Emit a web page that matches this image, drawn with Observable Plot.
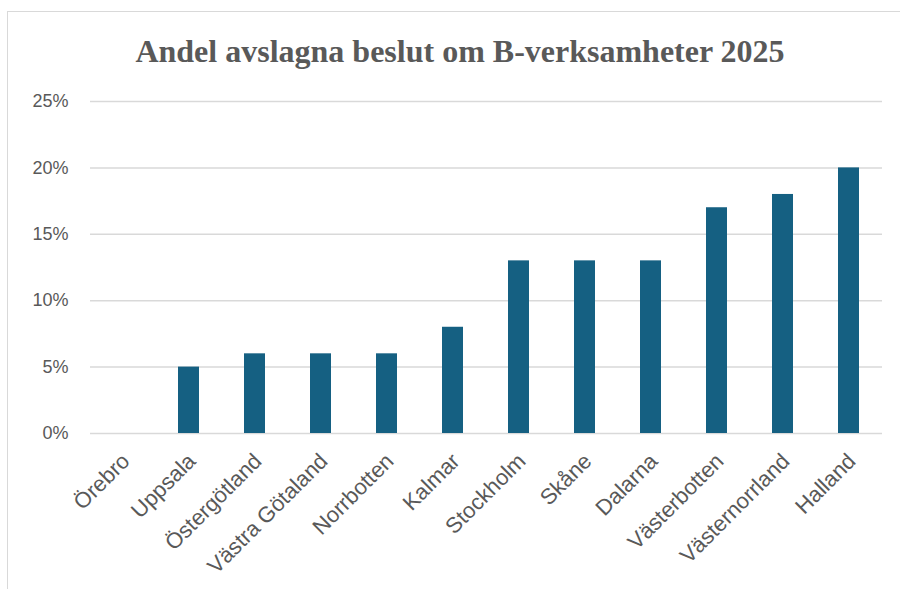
<!DOCTYPE html>
<html>
<head>
<meta charset="utf-8">
<script src="https://cdn.jsdelivr.net/npm/d3@7"></script>
<script src="https://cdn.jsdelivr.net/npm/@observablehq/plot@0.6"></script>
<style>
  html, body { margin: 0; padding: 0; background: #fff; overflow: hidden; }
  #wrap { position: relative; width: 900px; height: 589px; overflow: hidden; }
  #frame { position: absolute; left: 7px; top: 11px; width: 1000px; height: 1000px; border: 1.5px solid #d9d9d9; box-sizing: border-box; }
  #title { position: absolute; left: 0; width: 920px; top: 35px; text-align: center; line-height: 32px;
    font-family: "Liberation Serif", "Times New Roman", serif; font-weight: bold; font-size: 32px; color: #595959; }
  #chart { position: absolute; left: 0; top: 0; }
</style>
</head>
<body>
<div id="wrap">
  <div id="frame"></div>
  <div id="chart"></div>
  <div id="title">Andel avslagna beslut om B-verksamheter 2025</div>
</div>
<script>
const categories = ["Örebro", "Uppsala", "Östergötland", "Västra Götaland", "Norrbotten", "Kalmar", "Stockholm", "Skåne", "Dalarna", "Västerbotten", "Västernorrland", "Halland"];
const values = [0, 5, 6, 6, 6, 8, 13, 13, 13, 17, 18, 20];
const yTicks = [0, 5, 10, 15, 20, 25];

const data = categories.map((c, i) => ({ region: c, value: values[i] }));

const chart = Plot.plot({
  width: 900,
  height: 589,
  marginTop: 101,
  marginBottom: 156,
  marginLeft: 90,
  marginRight: 18,
  style: { fontFamily: "'Liberation Sans', Arial, sans-serif", fontSize: "18px", color: "#595959", background: "transparent", overflow: "visible" },
  x: { domain: categories, paddingInner: 0.68, paddingOuter: 0.34, align: 0.5, axis: null },
  y: { domain: [0, 25], axis: null },
  marks: [
    Plot.gridY(yTicks, { stroke: "#d9d9d9", strokeOpacity: 1, strokeWidth: 1.5 }),
    Plot.barY(data, { x: "region", y: "value", fill: "#156082" }),
    Plot.axisY(yTicks, { label: null, tickSize: 0, tickPadding: 22, tickFormat: d => d + "%", fill: "#595959", fontSize: 18 }),
    Plot.text(categories, { x: d => d, frameAnchor: "bottom", rotate: -45, textAnchor: "end", dx: 8, dy: 29, fill: "#595959", fontSize: 22 })
  ]
});
document.getElementById("chart").appendChild(chart);
</script>
</body>
</html>
